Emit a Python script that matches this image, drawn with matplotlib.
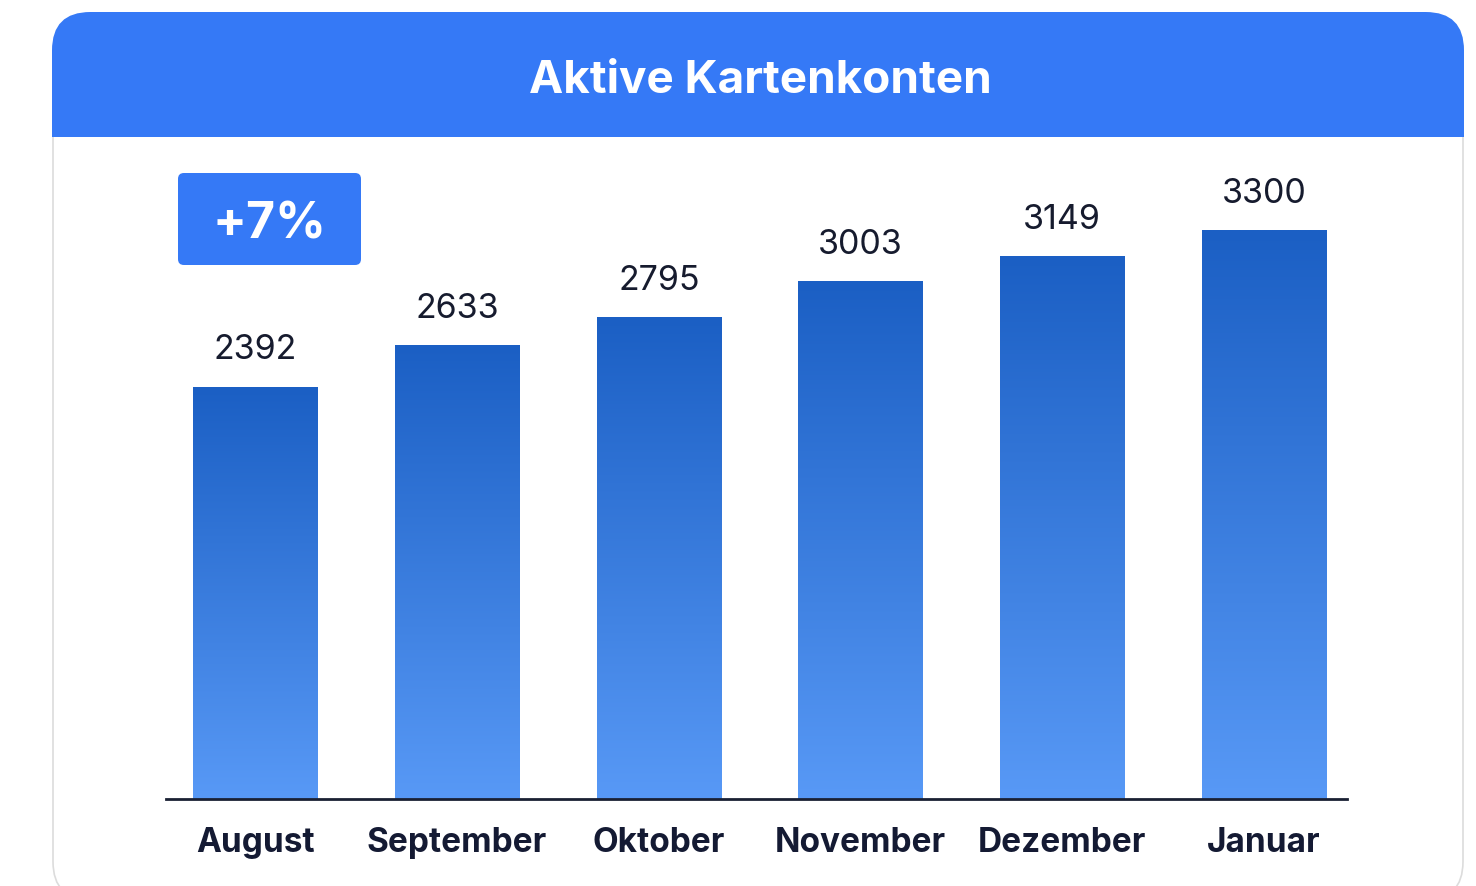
import matplotlib
matplotlib.use("Agg")
import matplotlib.pyplot as plt
import numpy as np
from matplotlib.patches import FancyBboxPatch, Rectangle
from matplotlib.colors import LinearSegmentedColormap

categories = ["August", "September", "Oktober", "November", "Dezember", "Januar"]
values = [2392, 2633, 2795, 3003, 3149, 3300]
title = "Aktive Kartenkonten"
badge_text = "+7%"

plt.rcParams['font.family'] = ['Inter', 'DejaVu Sans']

W, H = 1476, 886
fig = plt.figure(figsize=(W / 100, H / 100), dpi=100)
fig.patch.set_facecolor("white")

def fx(px):
    return px / W

def fy(py):
    return 1 - py / H

# Card body
card = FancyBboxPatch((fx(53), fy(900)), fx(1463) - fx(53), fy(14) - fy(900),
                      boxstyle="round,pad=0,rounding_size=0.026",
                      transform=fig.transFigure, facecolor="white",
                      edgecolor="#dcdcdc", linewidth=1.2, mutation_aspect=W / H, zorder=-3)
fig.patches.append(card)
# Header
header = FancyBboxPatch((fx(52), fy(137)), fx(1464) - fx(52), fy(12) - fy(137),
                        boxstyle="round,pad=0,rounding_size=0.026",
                        transform=fig.transFigure, facecolor="#3579f6",
                        edgecolor="none", mutation_aspect=W / H, zorder=-2)
fig.patches.append(header)
fig.patches.append(Rectangle((fx(52), fy(137)), fx(1464) - fx(52), fy(80) - fy(137),
                             transform=fig.transFigure, facecolor="#3579f6",
                             edgecolor="none", zorder=-2))
fig.text(fx(760), fy(81), title, color="white", fontsize=33, fontweight="bold",
         ha="center", va="center")

# Badge
badge = FancyBboxPatch((fx(178), fy(265)), fx(361) - fx(178), fy(173) - fy(265),
                       boxstyle="round,pad=0,rounding_size=0.004",
                       transform=fig.transFigure, facecolor="#3579f6",
                       edgecolor="none", mutation_aspect=W / H, zorder=-1)
fig.patches.append(badge)
fig.text(fx(269), fy(225), badge_text, color="white", fontsize=36, fontweight="bold",
         ha="center", va="center")

# Axes
ax_left, ax_right = 166, 1347
ax_top, ax_bottom = 140, 799
ax = fig.add_axes([fx(ax_left), fy(ax_bottom), fx(ax_right) - fx(ax_left), fy(ax_top) - fy(ax_bottom)])
ax.set_zorder(2)
ax.set_facecolor("none")
x = np.arange(len(categories))
scale = 0.1722  # px per unit

cmap = LinearSegmentedColormap.from_list("g", ["#5899f6", "#1b5fc4"])
grad = np.linspace(0, 1, 256).reshape(-1, 1)
bw = 0.615
bars = ax.bar(x, values, width=bw, color="none", edgecolor="none")
for b, v in zip(bars, values):
    x0 = b.get_x()
    ax.imshow(grad, cmap=cmap, origin="lower", aspect="auto",
              extent=(x0, x0 + bw, 0, v), zorder=2)
    ax.text(b.get_x() + bw / 2, v + 120, f"{v}", ha="center", va="bottom",
            fontsize=24.5, color="#161b2e")

ax.set_xlim(-0.443, 5.412)
ax.set_ylim(0, (ax_bottom - ax_top) / scale)
ax.set_xticks(x)
ax.set_xticklabels(categories, fontsize=24, fontweight="bold", color="#141a33")
ax.tick_params(axis="x", length=0, pad=20)
ax.set_yticks([])
for s in ["top", "right", "left"]:
    ax.spines[s].set_visible(False)
ax.spines["bottom"].set_color("#1a2033")
ax.spines["bottom"].set_linewidth(2)
ax.spines["bottom"].set_zorder(5)

fig.savefig("out.png", dpi=100, facecolor="white")
